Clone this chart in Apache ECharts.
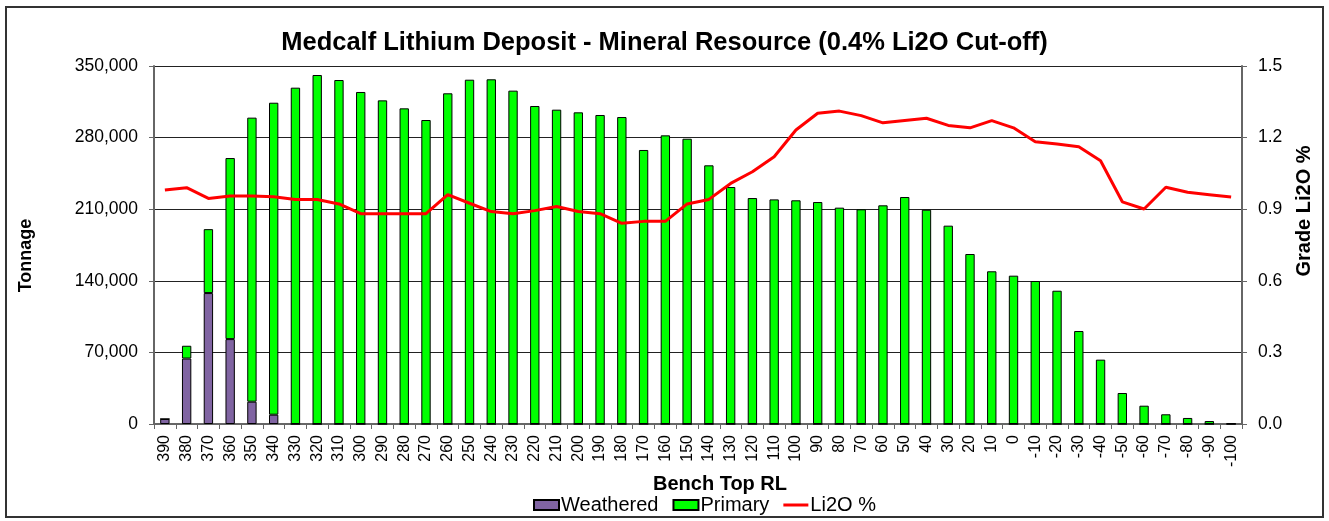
<!DOCTYPE html>
<html>
<head>
<meta charset="utf-8">
<script src="https://cdn.jsdelivr.net/npm/echarts@6/dist/echarts.min.js"></script>
<style>
html,body{margin:0;padding:0;background:#fff;}
#frame{position:absolute;left:5px;top:6px;width:1319px;height:512px;border:2px solid #333;box-sizing:border-box;}
#chart{position:absolute;left:0;top:0;width:1329px;height:521px;}
</style>
</head>
<body>
<div id="frame"></div>
<div id="chart"></div>
<script>
const categories = ['390','380','370','360','350','340','330','320','310','300','290','280','270','260','250','240','230','220','210','200','190','180','170','160','150','140','130','120','110','100','90','80','70','60','50','40','30','20','10','0','-10','-20','-30','-40','-50','-60','-70','-80','-90','-100'];
const weathered = [4900,64000,128000,83000,21800,9100,0,0,0,0,0,0,0,0,0,0,0,0,0,0,0,0,0,0,0,0,0,0,0,0,0,0,0,0,0,0,0,0,0,0,0,0,0,0,0,0,0,0,0,0];
const primary = [0,12500,62500,177000,277700,305000,328800,341200,336300,324600,316400,308600,297200,323300,336600,337000,325900,310900,307300,304700,302100,300100,267900,282200,278900,252900,231700,220900,219600,218700,217000,211500,209900,213800,221900,209500,193900,166200,149300,145000,139800,130300,90900,62900,30300,17900,9500,5900,2900,700];
const li2o = [0.98,0.99,0.945,0.955,0.955,0.952,0.941,0.941,0.922,0.881,0.881,0.881,0.881,0.961,0.925,0.89,0.881,0.894,0.911,0.89,0.881,0.841,0.849,0.849,0.922,0.941,1.008,1.057,1.12,1.232,1.302,1.311,1.292,1.262,1.272,1.281,1.251,1.241,1.271,1.241,1.183,1.173,1.162,1.103,0.931,0.901,0.992,0.971,0.961,0.951];
const tonnageTicks = {min:0,max:350000,interval:70000};
const gradeTicks = {min:0,max:1.5,interval:0.3};

const FONT = '"Liberation Sans", Arial, sans-serif';
const chart = echarts.init(document.getElementById('chart'), null, {renderer:'canvas'});
chart.setOption({
  animation:false,
  backgroundColor:'transparent',
  title:{text:'Medcalf Lithium Deposit - Mineral Resource (0.4% Li2O Cut-off)',left:'center',top:25,
    textStyle:{fontFamily:FONT,fontSize:25.5,fontWeight:'bold',color:'#000'}},
  legend:{top:490,left:528,itemGap:14,itemWidth:25,itemHeight:10,
    textStyle:{fontFamily:FONT,fontSize:20,color:'#000',padding:[0,0,0,-3]},
    data:[{name:'Weathered',icon:'rect'},{name:'Primary',icon:'rect'},
          {name:'Li2O %',icon:'path://M0,0L25,0L25,3L0,3Z'}]},
  grid:{left:154,right:87,top:66,bottom:97,containLabel:false},
  xAxis:{type:'category',data:categories,boundaryGap:true,
    name:'Bench Top RL',nameLocation:'middle',nameGap:44,
    nameTextStyle:{fontFamily:FONT,fontSize:20,fontWeight:'bold',color:'#000',padding:[0,0,0,44]},
    axisLine:{lineStyle:{color:'#666',width:2}},
    axisTick:{show:true,alignWithLabel:false,length:5,lineStyle:{color:'#666'}},
    axisLabel:{rotate:90,interval:0,fontFamily:FONT,fontSize:16,color:'#000',margin:11}},
  yAxis:[
    {type:'value',min:tonnageTicks.min,max:tonnageTicks.max,interval:tonnageTicks.interval,
     name:'Tonnage',nameLocation:'middle',nameGap:119,nameRotate:90,
     nameTextStyle:{fontFamily:FONT,fontSize:18,fontWeight:'bold',color:'#000',padding:[0,21,0,0]},
     axisLine:{show:true,lineStyle:{color:'#666',width:2}},
     axisTick:{show:true,length:5,lineStyle:{color:'#666'}},
     axisLabel:{fontFamily:FONT,fontSize:17.5,color:'#000',margin:16,
       formatter:v=>v.toLocaleString('en-US')},
     splitLine:{show:true,lineStyle:{color:'#222',width:1}}},
    {type:'value',min:gradeTicks.min,max:gradeTicks.max,interval:gradeTicks.interval,
     name:'Grade Li2O %',nameLocation:'middle',nameGap:52,nameRotate:90,
     nameTextStyle:{fontFamily:FONT,fontSize:20,fontWeight:'bold',color:'#000',padding:[0,0,0,68]},
     axisLine:{show:true,lineStyle:{color:'#666',width:2}},
     axisTick:{show:true,length:5,lineStyle:{color:'#666'}},
     axisLabel:{fontFamily:FONT,fontSize:17.5,color:'#000',margin:16,
       formatter:v=>v.toFixed(1)},
     splitLine:{show:false}}
  ],
  series:[
    {name:'Weathered',type:'bar',stack:'t',data:weathered,barWidth:'43%',yAxisIndex:0,
     itemStyle:{color:'#8064A2',borderColor:'#000',borderWidth:1}},
    {name:'Primary',type:'bar',stack:'t',data:primary,barWidth:'43%',yAxisIndex:0,
     itemStyle:{color:'#00FF00',borderColor:'#000',borderWidth:1}},
    {name:'Li2O %',type:'line',data:li2o,yAxisIndex:1,symbol:'none',smooth:false,
     lineStyle:{color:'#FF0000',width:3},itemStyle:{color:'#FF0000'}}
  ]
});
</script>
</body>
</html>
